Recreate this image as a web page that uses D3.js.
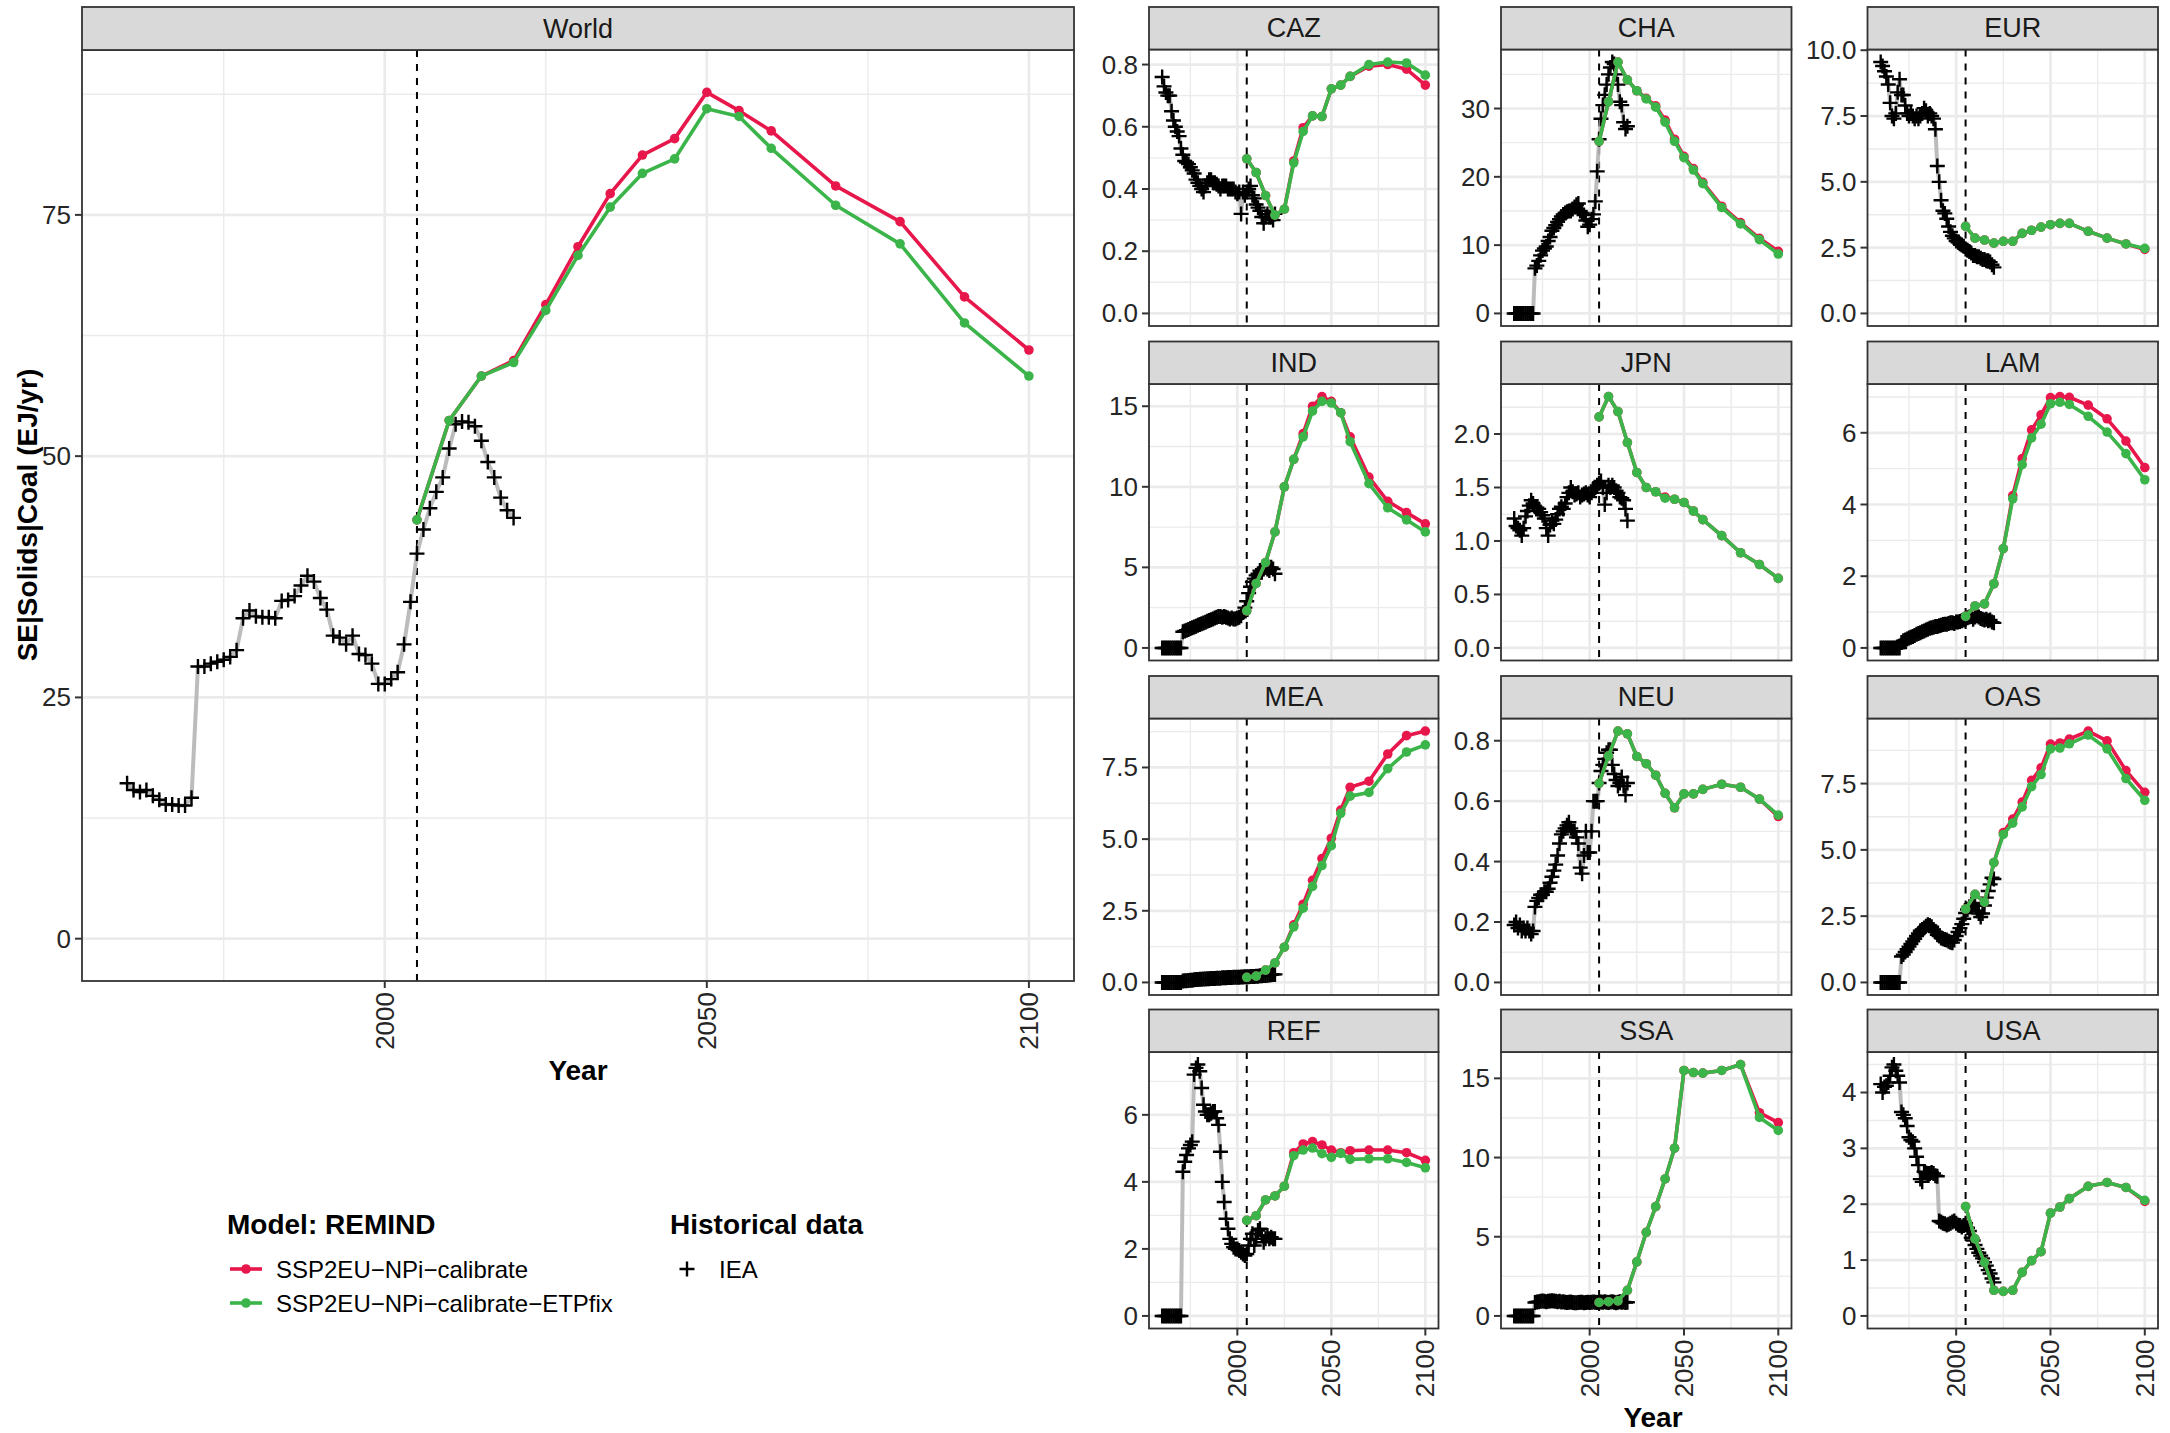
<!DOCTYPE html>
<html>
<head>
<meta charset="utf-8">
<script src="https://cdn.jsdelivr.net/npm/d3@7"></script>
<style>
  body { margin: 0; background: #ffffff; }
  svg text { font-family: "Liberation Sans", Arial, Helvetica, sans-serif; }
</style>
</head>
<body>
<svg id="chart" width="2170" height="1433"></svg>
<script>
// ---------------- DATA ----------------
const regions = ["World","CAZ","CHA","EUR","IND","JPN","LAM","MEA","NEU","OAS","REF","SSA","USA"];
const modelYears = [2005,2010,2015,2020,2025,2030,2035,2040,2045,2050,2055,2060,2070,2080,2090,2100];
const histYears = [1960,1961,1962,1963,1964,1965,1966,1967,1968,1969,1970,
  1971,1972,1973,1974,1975,1976,1977,1978,1979,1980,
  1981,1982,1983,1984,1985,1986,1987,1988,1989,1990,
  1991,1992,1993,1994,1995,1996,1997,1998,1999,2000,
  2001,2002,2003,2004,2005,2006,2007,2008,2009,2010,
  2011,2012,2013,2014,2015,2016,2017,2018,2019,2020];
const xTicks = [2000, 2050, 2100];
const refYear = 2005;
const seriesNames = ["SSP2EU\u2212NPi\u2212calibrate", "SSP2EU\u2212NPi\u2212calibrate\u2212ETPfix"];
const histName = "IEA";

const worldCalibrate = [43.4,53.7,58.3,59.9,65.7,71.7,77.2,81.2,82.9,87.7,85.8,83.7,78.0,74.3,66.5,61.0];
const worldEtpfix    = [43.4,53.7,58.3,59.7,65.1,70.8,75.8,79.3,80.8,86.0,85.2,81.9,76.0,72.0,63.8,58.3];
const worldIea = [16.1,15.4,15.2,15.4,14.8,14.4,13.9,13.9,13.8,13.8,14.6,
  28.2,28.2,28.5,28.7,28.9,29.2,29.9,33.2,34.0,33.4,
  33.3,33.3,33.2,35.0,35.1,35.5,36.6,37.6,37.0,35.3,
  34.1,31.4,31.2,30.5,31.4,29.5,29.4,28.5,26.4,26.4,
  26.9,27.6,30.5,34.9,39.9,42.4,44.6,46.3,47.8,50.8,
  53.3,53.6,53.5,53.1,51.6,49.4,47.8,45.7,44.4,43.6];
const worldTicks = [0,25,50,75];

const cazCalibrate = [0.497,0.453,0.379,0.316,0.335,0.49,0.597,0.635,0.633,0.722,0.734,0.762,0.795,0.80,0.785,0.734];
const cazEtpfix    = [0.497,0.453,0.379,0.316,0.335,0.484,0.585,0.635,0.633,0.722,0.734,0.762,0.80,0.808,0.805,0.766];
const cazIea = [0.76,0.73,0.71,0.70,0.70,0.65,0.62,0.60,0.585,0.57,0.53,
  0.51,0.49,0.485,0.48,0.47,0.46,0.45,0.43,0.42,0.41,
  0.40,0.39,0.41,0.42,0.43,0.43,0.42,0.42,0.415,0.41,
  0.40,0.41,0.41,0.41,0.40,0.40,0.40,0.40,0.39,0.385,
  0.39,0.32,0.39,0.38,0.39,0.40,0.41,0.38,0.37,0.35,
  0.34,0.33,0.31,0.29,0.31,0.32,0.31,0.31,0.30,0.32];
const cazTicks = [0,0.2,0.4,0.6,0.8];

const chaCalibrate = [25.2,31.0,36.8,34.2,32.6,31.5,30.4,28.3,25.5,23.0,21.2,19.2,15.7,13.3,11.0,9.1];
const chaEtpfix    = [25.2,31.0,36.8,34.2,32.6,31.4,30.2,28.0,25.2,22.8,21.0,19.0,15.5,13.1,10.8,8.7];
const chaIea = [0,0,0,0,0,0,0,0,0,0,0,
  6.6,7.0,7.7,8.5,9.2,9.5,9.8,10.6,11.2,12.1,
  12.5,12.9,13.4,13.8,14.2,14.5,14.7,14.9,15.0,15.0,
  15.3,15.6,15.9,16.1,15.0,14.7,14.4,13.6,12.7,13.0,
  13.8,14.5,16.4,20.8,25.5,28.5,30.5,32.0,33.5,35.0,
  36.0,36.8,36.5,35.0,33.5,31.0,30.5,28.0,27.0,27.4];
const chaTicks = [0,10,20,30];

const eurCalibrate = [3.31,2.86,2.79,2.67,2.74,2.74,3.04,3.16,3.28,3.37,3.42,3.42,3.12,2.86,2.64,2.43];
const eurEtpfix    = [3.31,2.86,2.79,2.67,2.74,2.74,3.04,3.16,3.28,3.37,3.42,3.42,3.12,2.86,2.64,2.47];
const eurIea = [9.55,9.4,9.2,9.0,8.7,8.0,7.5,7.4,7.6,8.4,8.9,
  8.3,8.3,7.9,7.6,7.5,7.6,7.5,7.4,7.5,7.4,
  7.5,7.6,7.8,7.7,7.5,7.6,7.5,7.4,7.0,5.6,
  5.0,4.3,3.9,3.8,3.6,3.3,3.1,2.95,2.85,2.75,
  2.7,2.65,2.6,2.55,2.45,2.4,2.35,2.3,2.2,2.2,
  2.15,2.15,2.1,2.05,2.05,2.0,2.0,1.95,1.85,1.75];
const eurTicks = [0,2.5,5,7.5,10];

const indCalibrate = [2.3,4.0,5.3,7.2,10.0,11.7,13.3,15.0,15.6,15.3,14.6,13.1,10.6,9.1,8.4,7.7];
const indEtpfix    = [2.3,4.0,5.3,7.2,10.0,11.7,13.1,14.7,15.3,15.2,14.6,12.8,10.2,8.7,7.95,7.2];
const indIea = [0,0,0,0,0,0,0,0,0,0,0,
  1.0,1.05,1.1,1.15,1.2,1.25,1.3,1.35,1.4,1.45,
  1.5,1.55,1.6,1.65,1.7,1.75,1.8,1.85,1.9,1.95,
  1.95,1.9,1.95,1.9,1.85,1.8,1.85,1.8,1.8,1.85,
  1.9,2.0,2.2,2.5,2.9,3.4,3.8,4.1,4.3,4.5,
  4.6,4.8,4.7,4.9,5.0,4.9,4.8,5.0,4.9,4.6];
const indTicks = [0,5,10,15];

const jpnCalibrate = [2.16,2.35,2.21,1.92,1.64,1.50,1.46,1.41,1.39,1.36,1.28,1.20,1.05,0.89,0.78,0.65];
const jpnEtpfix    = [2.16,2.35,2.21,1.92,1.64,1.50,1.46,1.40,1.39,1.36,1.28,1.20,1.05,0.89,0.78,0.65];
const jpnIea = [1.21,1.14,1.12,1.10,1.05,1.12,1.23,1.28,1.33,1.38,1.35,
  1.32,1.31,1.30,1.27,1.24,1.21,1.12,1.05,1.15,1.19,
  1.16,1.20,1.25,1.30,1.32,1.30,1.35,1.41,1.45,1.50,
  1.46,1.43,1.44,1.45,1.41,1.43,1.44,1.45,1.43,1.41,
  1.45,1.49,1.50,1.52,1.54,1.56,1.50,1.34,1.45,1.52,
  1.50,1.52,1.50,1.47,1.45,1.41,1.40,1.38,1.30,1.19];
const jpnTicks = [0,0.5,1,1.5,2];

const lamCalibrate = [0.88,1.17,1.23,1.79,2.77,4.25,5.28,6.08,6.5,6.98,7.01,6.99,6.77,6.39,5.77,5.03];
const lamEtpfix    = [0.88,1.17,1.23,1.79,2.77,4.16,5.11,5.86,6.24,6.81,6.85,6.79,6.46,6.02,5.42,4.69];
const lamIea = [0,0,0,0,0,0,0,0,0,0,0,
  0.15,0.2,0.22,0.25,0.28,0.3,0.32,0.35,0.38,0.4,
  0.42,0.45,0.47,0.5,0.52,0.55,0.56,0.58,0.6,0.6,
  0.62,0.63,0.65,0.66,0.66,0.68,0.7,0.7,0.68,0.72,
  0.72,0.74,0.76,0.78,0.8,0.84,0.86,0.88,0.8,0.86,
  0.9,0.86,0.82,0.8,0.78,0.8,0.76,0.78,0.72,0.7];
const lamTicks = [0,2,4,6];

const meaCalibrate = [0.18,0.22,0.43,0.68,1.23,2.01,2.73,3.56,4.32,5.03,6.01,6.81,7.02,7.97,8.61,8.77];
const meaEtpfix    = [0.18,0.22,0.43,0.68,1.23,1.94,2.59,3.35,4.08,4.77,5.9,6.5,6.63,7.46,8.04,8.29];
const meaIea = [0,0,0,0,0,0,0,0,0,0,0,
  0.05,0.06,0.06,0.07,0.08,0.08,0.09,0.1,0.1,0.11,
  0.11,0.12,0.12,0.13,0.13,0.14,0.14,0.14,0.15,0.15,
  0.15,0.16,0.16,0.16,0.17,0.17,0.17,0.18,0.18,0.18,
  0.18,0.19,0.19,0.2,0.2,0.2,0.21,0.21,0.21,0.22,
  0.22,0.23,0.23,0.24,0.24,0.25,0.26,0.27,0.28,0.28];
const meaTicks = [0,2.5,5,7.5];

const neuCalibrate = [0.659,0.75,0.832,0.823,0.748,0.724,0.686,0.626,0.578,0.624,0.624,0.639,0.656,0.646,0.607,0.549];
const neuEtpfix    = [0.659,0.75,0.832,0.823,0.748,0.724,0.686,0.626,0.578,0.624,0.624,0.639,0.656,0.646,0.607,0.554];
const neuIea = [0.19,0.2,0.18,0.19,0.17,0.18,0.17,0.18,0.17,0.16,0.17,
  0.25,0.27,0.28,0.29,0.29,0.30,0.30,0.31,0.33,0.35,
  0.37,0.39,0.42,0.46,0.49,0.50,0.51,0.52,0.53,0.51,
  0.50,0.50,0.48,0.46,0.38,0.36,0.42,0.50,0.43,0.43,
  0.50,0.60,0.60,0.60,0.66,0.70,0.72,0.74,0.76,0.77,
  0.77,0.72,0.69,0.67,0.65,0.66,0.68,0.65,0.62,0.66];
const neuTicks = [0,0.2,0.4,0.6,0.8];

const oasCalibrate = [2.77,3.32,3.03,4.52,5.65,6.16,6.8,7.62,8.09,8.99,9.03,9.18,9.48,9.11,7.99,7.17];
const oasEtpfix    = [2.77,3.32,3.03,4.52,5.58,6.01,6.62,7.39,7.84,8.81,8.84,9.0,9.33,8.81,7.69,6.87];
const oasIea = [0,0,0,0,0,0,0,0,0,0,0,
  0.98,1.05,1.15,1.25,1.35,1.45,1.55,1.65,1.75,1.85,
  1.95,2.0,2.05,2.12,2.18,2.15,2.1,2.0,1.9,1.8,
  1.75,1.68,1.65,1.62,1.6,1.55,1.52,1.5,1.6,1.75,
  1.9,2.05,2.2,2.4,2.62,2.75,2.85,2.95,3.0,2.9,
  2.7,2.6,2.47,2.6,2.9,3.2,3.45,3.7,3.95,3.9];
const oasTicks = [0,2.5,5,7.5];

const refCalibrate = [2.85,2.99,3.46,3.58,3.87,4.87,5.13,5.2,5.1,4.95,4.87,4.93,4.95,4.95,4.87,4.64];
const refEtpfix    = [2.85,2.99,3.46,3.58,3.87,4.78,4.95,5.01,4.84,4.73,4.85,4.67,4.69,4.69,4.58,4.42];
const refIea = [0,0,0,0,0,0,0,0,0,0,0,
  4.3,4.6,4.8,5.0,5.1,5.2,7.2,7.4,7.5,7.3,
  6.8,6.3,6.1,6.0,6.0,6.05,6.1,6.1,5.9,5.7,
  4.9,4.0,3.4,2.9,2.6,2.3,2.15,2.05,2.0,2.0,
  1.95,1.9,1.85,1.8,1.85,2.1,2.3,2.45,2.1,2.3,
  2.55,2.6,2.4,2.2,2.3,2.4,2.3,2.35,2.3,2.3];
const refTicks = [0,2,4,6];

const ssaCalibrate = [0.85,0.9,0.95,1.62,3.41,5.28,6.9,8.65,10.59,15.5,15.37,15.33,15.5,15.87,12.83,12.21];
const ssaEtpfix    = [0.85,0.9,0.95,1.62,3.41,5.28,6.9,8.65,10.59,15.5,15.37,15.33,15.5,15.87,12.53,11.71];
const ssaIea = [0,0,0,0,0,0,0,0,0,0,0,
  0.85,0.88,0.9,0.92,0.95,0.93,0.9,0.92,0.94,0.96,
  0.95,0.93,0.9,0.92,0.88,0.9,0.87,0.85,0.86,0.88,
  0.85,0.84,0.83,0.85,0.87,0.86,0.84,0.85,0.86,0.85,
  0.87,0.88,0.86,0.85,0.9,0.88,0.86,0.89,0.87,0.85,
  0.88,0.9,0.86,0.84,0.87,0.89,0.86,0.88,0.85,0.86];
const ssaTicks = [0,5,10,15];

const usaCalibrate = [1.96,1.38,0.96,0.46,0.44,0.46,0.78,0.99,1.15,1.84,1.95,2.1,2.32,2.39,2.3,2.05];
const usaEtpfix    = [1.96,1.38,0.96,0.46,0.44,0.46,0.78,0.99,1.15,1.84,1.95,2.1,2.32,2.39,2.3,2.07];
const usaIea = [4.15,4.0,4.1,4.12,4.18,4.3,4.45,4.5,4.39,4.3,4.18,
  3.65,3.6,3.54,3.4,3.2,3.15,3.12,3.0,2.85,2.7,
  2.45,2.4,2.58,2.56,2.55,2.55,2.57,2.55,2.51,2.5,
  1.7,1.68,1.66,1.65,1.63,1.64,1.66,1.68,1.7,1.66,
  1.63,1.62,1.59,1.62,1.66,1.58,1.52,1.40,1.35,1.27,
  1.2,1.13,1.08,1.03,0.96,0.9,0.82,0.76,0.67,0.6];
const usaTicks = [0,1,2,3,4];

// table built from the arrays above
const panelData = [
  {name: regions[0],  calib: worldCalibrate, etp: worldEtpfix, iea: worldIea, ticks: worldTicks},
  {name: regions[1],  calib: cazCalibrate,   etp: cazEtpfix,   iea: cazIea,   ticks: cazTicks},
  {name: regions[2],  calib: chaCalibrate,   etp: chaEtpfix,   iea: chaIea,   ticks: chaTicks},
  {name: regions[3],  calib: eurCalibrate,   etp: eurEtpfix,   iea: eurIea,   ticks: eurTicks},
  {name: regions[4],  calib: indCalibrate,   etp: indEtpfix,   iea: indIea,   ticks: indTicks},
  {name: regions[5],  calib: jpnCalibrate,   etp: jpnEtpfix,   iea: jpnIea,   ticks: jpnTicks},
  {name: regions[6],  calib: lamCalibrate,   etp: lamEtpfix,   iea: lamIea,   ticks: lamTicks},
  {name: regions[7],  calib: meaCalibrate,   etp: meaEtpfix,   iea: meaIea,   ticks: meaTicks},
  {name: regions[8],  calib: neuCalibrate,   etp: neuEtpfix,   iea: neuIea,   ticks: neuTicks},
  {name: regions[9],  calib: oasCalibrate,   etp: oasEtpfix,   iea: oasIea,   ticks: oasTicks},
  {name: regions[10], calib: refCalibrate,   etp: refEtpfix,   iea: refIea,   ticks: refTicks},
  {name: regions[11], calib: ssaCalibrate,   etp: ssaEtpfix,   iea: ssaIea,   ticks: ssaTicks},
  {name: regions[12], calib: usaCalibrate,   etp: usaEtpfix,   iea: usaIea,   ticks: usaTicks}
];

// ---------------- STYLE / LAYOUT ----------------
const RED = "#E8174B", GREEN = "#3BB54A";
const HIST_LINE = "#B5B5B5";
const GRID = "#EBEBEB";
const BORDER = "#333333";
const STRIP_FILL = "#D9D9D9";
const TEXT_DARK = "#1A1A1A";
const TICK_TEXT = "#262626";
const LINE_W = 3.6, DOT_R = 4.8, CROSS = 7.5, CROSS_W = 2.4;

const svg = d3.select("#chart");
svg.append("rect").attr("width", 2170).attr("height", 1433).attr("fill", "#fff");
const defs = svg.append("defs");

const smallCols = [[1149, 1438.5], [1501, 1791.5], [1867.5, 2158]];
const smallRowTops = [7, 341.5, 676, 1009.5];
const stripH = 42.5, smallPlotH = 276.5;

function layoutFor(i) {
  if (i === 0) return {x0: 82, x1: 1074, sTop: 7, y0: 50, y1: 981, showX: true};
  const k = i - 1, col = k % 3, row = Math.floor(k / 3);
  const sTop = smallRowTops[row];
  return {x0: smallCols[col][0], x1: smallCols[col][1], sTop: sTop,
          y0: sTop + stripH, y1: sTop + stripH + smallPlotH, showX: row === 3};
}

const allYears = histYears.concat(modelYears);
const xExt = d3.extent(allYears);
const xPad = (xExt[1] - xExt[0]) * 0.05;
const xDomain = [xExt[0] - xPad, xExt[1] + xPad];
const xStep = xTicks[1] - xTicks[0];

function decimalsOf(ticks) {
  return d3.max(ticks, t => { const s = String(t); const p = s.indexOf("."); return p < 0 ? 0 : s.length - p - 1; });
}

function crossPath(s) { return `M${-s},0H${s}M0,${-s}V${s}`; }

panelData.forEach((pd, i) => {
  const L = layoutFor(i);
  const x = d3.scaleLinear().domain(xDomain).range([L.x0, L.x1]);
  const hi = d3.max([d3.max(pd.calib), d3.max(pd.etp), d3.max(pd.iea)]);
  const lo = Math.min(0, d3.min(pd.iea));
  const yPad = (hi - lo) * 0.05;
  const y = d3.scaleLinear().domain([lo - yPad, hi + yPad]).range([L.y1, L.y0]);

  const g = svg.append("g").attr("class", "panel-" + pd.name);
  const clipId = "clip" + i;
  defs.append("clipPath").attr("id", clipId)
    .append("rect").attr("x", L.x0).attr("y", L.y0).attr("width", L.x1 - L.x0).attr("height", L.y1 - L.y0);

  g.append("rect").attr("x", L.x0).attr("y", L.y0).attr("width", L.x1 - L.x0).attr("height", L.y1 - L.y0).attr("fill", "#fff");

  const inner = g.append("g").attr("clip-path", `url(#${clipId})`);
  const yd = y.domain();
  const yStep = pd.ticks[1] - pd.ticks[0];
  const yMinor = [];
  [pd.ticks[0] - yStep].concat(pd.ticks).forEach(t => { const m = t + yStep / 2; if (m >= yd[0] && m <= yd[1]) yMinor.push(m); });
  const xMinor = [];
  [xTicks[0] - xStep].concat(xTicks).forEach(t => { const m = t + xStep / 2; if (m >= xDomain[0] && m <= xDomain[1]) xMinor.push(m); });
  inner.selectAll("line.ymin").data(yMinor).join("line")
    .attr("x1", L.x0).attr("x2", L.x1).attr("y1", d => y(d)).attr("y2", d => y(d))
    .attr("stroke", GRID).attr("stroke-width", 1.4);
  inner.selectAll("line.xmin").data(xMinor).join("line")
    .attr("y1", L.y0).attr("y2", L.y1).attr("x1", d => x(d)).attr("x2", d => x(d))
    .attr("stroke", GRID).attr("stroke-width", 1.4);
  const yMajor = pd.ticks.filter(t => t >= yd[0] && t <= yd[1]);
  const xMajor = xTicks.filter(t => t >= xDomain[0] && t <= xDomain[1]);
  inner.selectAll("line.ymaj").data(yMajor).join("line")
    .attr("x1", L.x0).attr("x2", L.x1).attr("y1", d => y(d)).attr("y2", d => y(d))
    .attr("stroke", GRID).attr("stroke-width", 2.7);
  inner.selectAll("line.xmaj").data(xMajor).join("line")
    .attr("y1", L.y0).attr("y2", L.y1).attr("x1", d => x(d)).attr("x2", d => x(d))
    .attr("stroke", GRID).attr("stroke-width", 2.7);

  inner.append("line").attr("x1", x(refYear)).attr("x2", x(refYear)).attr("y1", L.y0).attr("y2", L.y1)
    .attr("stroke", "#000").attr("stroke-width", 2).attr("stroke-dasharray", "7,7");

  const hist = histYears.map((yr, j) => [yr, pd.iea[j]]);
  const line = d3.line().x(d => x(d[0])).y(d => y(d[1]));
  inner.append("path").datum(hist).attr("d", line)
    .attr("fill", "none").attr("stroke", HIST_LINE).attr("stroke-opacity", 0.9).attr("stroke-width", 4)
    .attr("stroke-linejoin", "round");
  inner.selectAll("path.cross").data(hist).join("path")
    .attr("d", crossPath(CROSS)).attr("transform", d => `translate(${x(d[0])},${y(d[1])})`)
    .attr("stroke", "#000").attr("stroke-width", CROSS_W).attr("fill", "none");

  [[pd.calib, RED], [pd.etp, GREEN]].forEach(([vals, col]) => {
    const pts = modelYears.map((yr, j) => [yr, vals[j]]);
    inner.append("path").datum(pts).attr("d", line)
      .attr("fill", "none").attr("stroke", col).attr("stroke-width", LINE_W).attr("stroke-linejoin", "round");
    inner.selectAll(null).data(pts).join("circle")
      .attr("cx", d => x(d[0])).attr("cy", d => y(d[1])).attr("r", DOT_R).attr("fill", col);
  });

  g.append("rect").attr("x", L.x0).attr("y", L.y0).attr("width", L.x1 - L.x0).attr("height", L.y1 - L.y0)
    .attr("fill", "none").attr("stroke", BORDER).attr("stroke-width", 1.8);

  g.append("rect").attr("x", L.x0).attr("y", L.sTop).attr("width", L.x1 - L.x0).attr("height", L.y0 - L.sTop)
    .attr("fill", STRIP_FILL).attr("stroke", BORDER).attr("stroke-width", 1.8);
  g.append("text").attr("x", (L.x0 + L.x1) / 2).attr("y", (L.sTop + L.y0) / 2)
    .attr("text-anchor", "middle").attr("dominant-baseline", "central")
    .attr("font-size", 27).attr("fill", TEXT_DARK).text(pd.name);

  const dec = decimalsOf(pd.ticks);
  g.selectAll("line.yt").data(yMajor).join("line")
    .attr("x1", L.x0 - 7).attr("x2", L.x0).attr("y1", d => y(d)).attr("y2", d => y(d))
    .attr("stroke", BORDER).attr("stroke-width", 2);
  g.selectAll("text.yl").data(yMajor).join("text")
    .attr("x", L.x0 - 11).attr("y", d => y(d)).attr("text-anchor", "end").attr("dominant-baseline", "central")
    .attr("font-size", 26).attr("fill", TICK_TEXT).text(d => d.toFixed(dec));

  if (L.showX) {
    g.selectAll("line.xt").data(xMajor).join("line")
      .attr("x1", d => x(d)).attr("x2", d => x(d)).attr("y1", L.y1).attr("y2", L.y1 + 7)
      .attr("stroke", BORDER).attr("stroke-width", 2);
    g.selectAll("text.xl").data(xMajor).join("text")
      .attr("transform", d => `translate(${x(d)},${L.y1 + 11}) rotate(-90)`)
      .attr("text-anchor", "end").attr("dominant-baseline", "central")
      .attr("font-size", 26).attr("fill", TICK_TEXT).text(d => d);
  }
});

// axis titles
svg.append("text").attr("x", 578).attr("y", 1070).attr("text-anchor", "middle").attr("dominant-baseline", "central")
  .attr("font-size", 28).attr("font-weight", "bold").attr("fill", "#000").text("Year");
svg.append("text").attr("x", 1653).attr("y", 1417).attr("text-anchor", "middle").attr("dominant-baseline", "central")
  .attr("font-size", 28).attr("font-weight", "bold").attr("fill", "#000").text("Year");
svg.append("text").attr("transform", "translate(27,515) rotate(-90)").attr("text-anchor", "middle")
  .attr("dominant-baseline", "central").attr("font-size", 28).attr("font-weight", "bold").attr("fill", "#000")
  .text("SE|Solids|Coal (EJ/yr)");

// legend
const lg = svg.append("g");
lg.append("text").attr("x", 227).attr("y", 1234).attr("font-size", 28).attr("font-weight", "bold").attr("fill", "#000").text("Model: REMIND");
[[seriesNames[0], RED, 1269], [seriesNames[1], GREEN, 1303]].forEach(([lab, col, cy]) => {
  lg.append("line").attr("x1", 230).attr("x2", 262).attr("y1", cy).attr("y2", cy).attr("stroke", col).attr("stroke-width", LINE_W);
  lg.append("circle").attr("cx", 246).attr("cy", cy).attr("r", DOT_R).attr("fill", col);
  lg.append("text").attr("x", 276).attr("y", cy).attr("dominant-baseline", "central").attr("font-size", 24).attr("fill", "#000").text(lab);
});
lg.append("text").attr("x", 670).attr("y", 1234).attr("font-size", 28).attr("font-weight", "bold").attr("fill", "#000").text("Historical data");
lg.append("path").attr("d", crossPath(CROSS)).attr("transform", "translate(687,1269)").attr("stroke", "#000").attr("stroke-width", CROSS_W);
lg.append("text").attr("x", 719).attr("y", 1269).attr("dominant-baseline", "central").attr("font-size", 24).attr("fill", "#000").text(histName);
</script>
</body>
</html>
